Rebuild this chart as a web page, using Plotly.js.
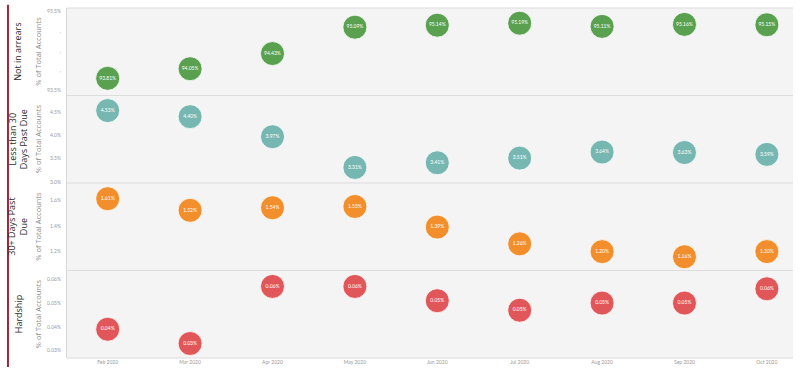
<!DOCTYPE html>
<html>
<head>
<meta charset="utf-8">
<script src="https://cdn.plot.ly/plotly-3.0.1.min.js"></script>
<style>
html,body{margin:0;padding:0;background:#fff;}
#chart{width:802px;height:375px;}
</style>
</head>
<body>
<div id="chart"></div>
<script>
const months = ['Feb 2020','Mar 2020','Apr 2020','May 2020','Jun 2020','Jul 2020','Aug 2020','Sep 2020','Oct 2020'];
const notInArrears = [93.81, 94.05, 94.43, 95.09, 95.14, 95.19, 95.11, 95.16, 95.15];
const lessThan30 = [4.53, 4.40, 3.97, 3.31, 3.41, 3.51, 3.64, 3.63, 3.59];
const thirtyPlus = [1.61, 1.52, 1.54, 1.55, 1.39, 1.26, 1.20, 1.16, 1.20];
const hardship = [0.039, 0.033, 0.057, 0.057, 0.051, 0.047, 0.050, 0.050, 0.056];
const rowNames = ['Not in arrears', 'Less than 30<br>Days Past Due', '30+ Days Past<br>Due', 'Hardship'];
const axisTitle = '% of Total Accounts';
const tick1Vals = [93.5, 94.0, 94.5, 95.0, 95.5];
const tick1Text = ['93.5%', ',', ',', ',', '95.5%'];
const tick2Vals = [3.0, 3.5, 4.0, 4.5];
const tick2Text = ['3.0%', '3.5%', '4.0%', '4.5%'];
const tick3Vals = [1.2, 1.4, 1.6];
const tick3Text = ['1.2%', '1.4%', '1.6%'];
const tick4Vals = [0.03, 0.04, 0.05, 0.06];
const tick4Text = ['0.03%', '0.04%', '0.05%', '0.06%'];

const colors = ['#59a14f', '#76b7b2', '#f28e2b', '#e15759'];
const series = [notInArrears, lessThan30, thirtyPlus, hardship];
const yaxes = ['y4', 'y3', 'y2', 'y'];

const traces = series.map((vals, i) => ({
  type: 'scatter',
  mode: 'markers+text',
  x: months,
  y: vals,
  xaxis: 'x',
  yaxis: yaxes[i],
  text: vals.map(v => v.toFixed(2) + '%'),
  textposition: 'middle center',
  textfont: {family: 'Lato, "Open Sans", sans-serif', size: 5, color: '#ffffff'},
  marker: {size: 24, color: colors[i], opacity: 1, line: {color: 'rgba(255,255,255,0.8)', width: 1}},
  hoverinfo: 'x+y',
  showlegend: false,
  cliponaxis: false
}));

const tickFont = {family: 'Lato, "Open Sans", sans-serif', size: 5, color: '#9a9a9a'};
function yax(domain, range, vals, text) {
  return {
    domain: domain, range: range, tickvals: vals, ticktext: text,
    tickfont: tickFont, showgrid: false, zeroline: false,
    showline: true, linecolor: '#d8d8d8', linewidth: 1,
    ticks: '', ticklabelstandoff: 4, fixedrange: true
  };
}

const shapes = [
  {type: 'line', xref: 'paper', yref: 'paper', x0: -0.0813, x1: -0.0813, y0: -0.026, y1: 1.009,
   line: {color: '#a8233a', width: 2}}
];
[0, 0.25, 0.5, 0.75, 1].forEach(y => shapes.push({
  type: 'line', xref: 'paper', yref: 'paper', x0: 0, x1: 1, y0: y, y1: y,
  line: {color: '#dcdcdc', width: 1}
}));

const annotations = [];
const centers = [0.875, 0.625, 0.375, 0.125];
rowNames.forEach((name, i) => {
  annotations.push({
    xref: 'paper', yref: 'paper', x: 0, y: centers[i], xshift: -49,
    text: name, showarrow: false, textangle: -90,
    font: {family: '"Open Sans", Lato, sans-serif', size: 9, color: '#2a2a2a'},
    xanchor: 'center', yanchor: 'middle', align: 'center'
  });
  annotations.push({
    xref: 'paper', yref: 'paper', x: 0, y: centers[i], xshift: -29,
    text: axisTitle, showarrow: false, textangle: -90,
    font: {family: '"Open Sans", Lato, sans-serif', size: 7.5, color: '#8a8a8a'},
    xanchor: 'center', yanchor: 'middle'
  });
});

const layout = {
  width: 802, height: 375,
  margin: {l: 67, r: 9, t: 8, b: 17},
  paper_bgcolor: '#ffffff',
  plot_bgcolor: '#f4f4f4',
  showlegend: false,
  xaxis: {
    type: 'category', range: [-0.494, 8.317], tickfont: tickFont,
    showgrid: false, zeroline: false, showline: false, ticks: '', fixedrange: true,
    anchor: 'y'
  },
  yaxis: yax([0, 0.25], [0.0269, 0.0637], tick4Vals, tick4Text),
  yaxis2: yax([0.25, 0.5], [1.0535, 1.732], tick3Vals, tick3Text),
  yaxis3: yax([0.5, 0.75], [2.976, 4.854], tick2Vals, tick2Text),
  yaxis4: yax([0.75, 1], [93.38, 95.57], tick1Vals, tick1Text),
  shapes: shapes,
  annotations: annotations
};
layout.yaxis2.anchor = 'x';
layout.yaxis3.anchor = 'x';
layout.yaxis4.anchor = 'x';

Plotly.newPlot('chart', traces, layout, {displayModeBar: false, staticPlot: true});
</script>
</body>
</html>
